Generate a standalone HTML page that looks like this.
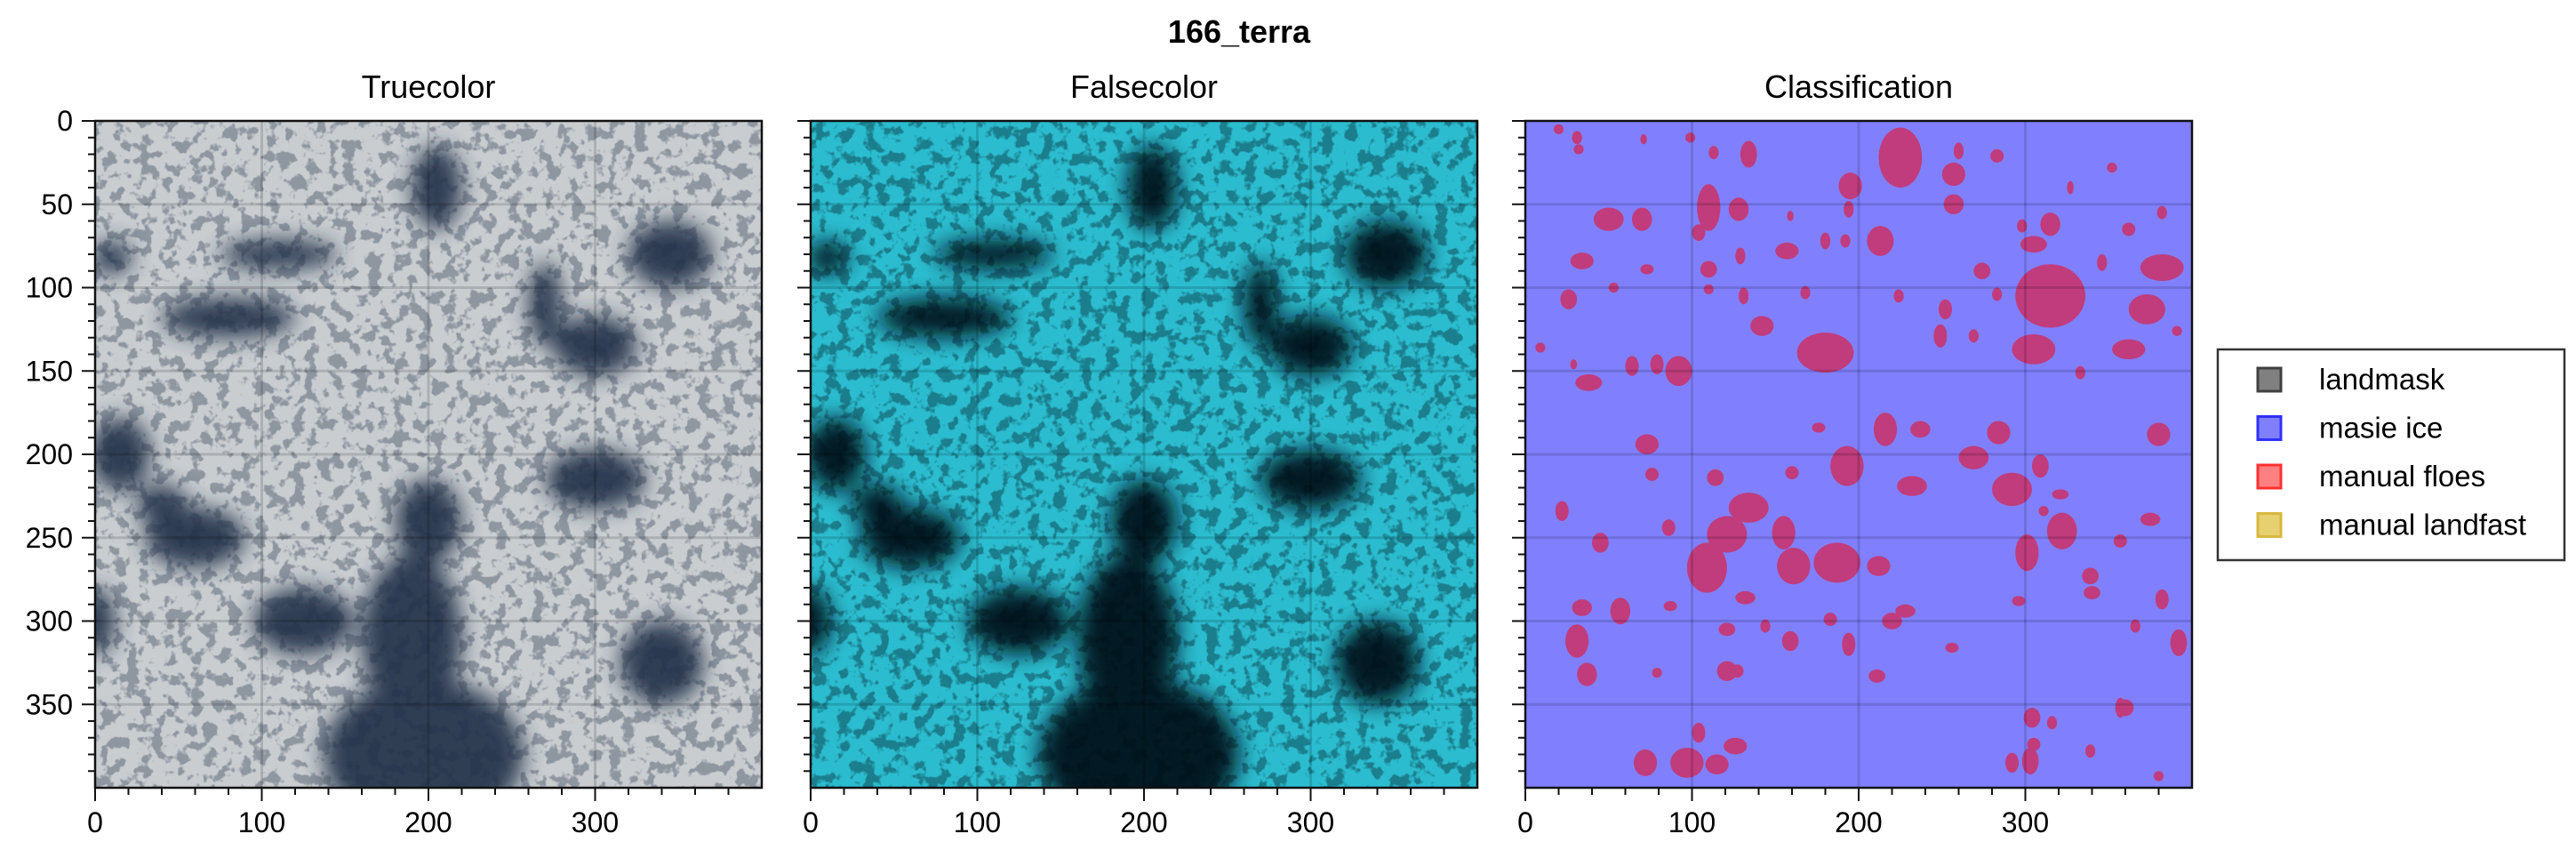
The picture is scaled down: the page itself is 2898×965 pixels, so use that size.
<!DOCTYPE html>
<html><head><meta charset="utf-8">
<style>
html,body{margin:0;padding:0;background:#fff;}
svg{display:block;font-family:"Liberation Sans",Arial,sans-serif;}
</style></head>
<body>
<svg id="fig" width="2898" height="965" viewBox="0 0 2898 965" xmlns="http://www.w3.org/2000/svg">
<defs>
<filter id="blurDark" x="-20%" y="-20%" width="140%" height="140%"><feGaussianBlur stdDeviation="12"/></filter>
<filter id="speckle" x="0" y="0" width="100%" height="100%">
<feTurbulence type="fractalNoise" baseFrequency="0.07" numOctaves="3" seed="7" result="n"/>
<feColorMatrix in="n" type="matrix" values="0 0 0 0 0  0 0 0 0 0  0 0 0 0 0  0 0 0 -9 4.4" result="a"/>
<feComposite in="SourceGraphic" in2="a" operator="in"/>
</filter>
<clipPath id="clip1"><rect x="107" y="136" width="750" height="750"/></clipPath>
<clipPath id="clip2"><rect x="912" y="136" width="750" height="750"/></clipPath>
<clipPath id="clip3"><rect x="1716" y="136" width="750" height="750"/></clipPath>
</defs>
<text x="1394" y="48" text-anchor="middle" font-size="36" font-weight="bold">166_terra</text>
<g id="layer"></g>
</svg>
<script>
// dark water regions [x, y, rx, ry] in data units
const waterX = [197,190,80,110,10,15,300,345,205,300,60,125,340,200,0,40,270];
const waterY = [380,310,118,80,82,200,135,80,40,215,250,300,325,240,300,230,110];
const waterRX = [60,30,40,35,12,18,25,25,15,30,30,30,25,20,12,15,10];
const waterRY = [45,50,12,9,10,22,18,20,25,18,18,20,25,25,20,12,25];
// classified floes [x, y, rx, ry] in data units
const floeX = [225,315,180,382,373,305,110,50,70,128,195,257,257,213,157,92,38,26,34,134,305,315,142,64,362,
20,31,32,71,99,113,283,260,352,327,382,362,298,180,192,129,73,110,274,346,53,110,131,168,224,252,283,391,249,269,9,29,79,333,104,194,159,
193,216,292,134,121,109,161,187,155,301,322,212,232,269,284,380,309,73,34,57,31,132,220,159,194,121,37,72,97,115,126,104,392,304,360,303,292,382,339,340,375,357,45,76,22,114,160,237,176,144,183,87,121,228,296,256,127,79,211,305,339,357,380,366,86,316,321,311];
const floeY = [22,105,139,88,113,137,52,59,59,53,39,32,50,72,78,150,157,107,84,20,74,62,123,147,137,
5,10,17,11,10,19,21,18,28,40,55,65,63,72,72,81,89,89,90,85,100,101,105,103,105,113,104,126,129,129,136,146,146,151,67,53,57,
207,185,221,232,248,268,267,265,247,259,246,267,219,202,187,188,207,194,292,294,312,286,300,312,314,330,332,385,385,386,375,367,313,358,352,384,385,287,273,283,239,252,253,212,234,214,211,185,184,303,299,291,305,294,288,316,330,331,333,374,378,352,393,303,244,361,224,234];
const floeRX = [13,21,17,13,11,13,7,9,6,6,7,7,6,8,7,8,8,5,7,5,8,6,7,4,10,
3,3,3,2,3,3,4,3,3,2,3,4,3,3,3,3,4,5,5,3,3,3,3,3,3,4,3,3,4,3,3,2,4,3,4,3,2,
10,7,12,12,12,12,10,14,7,7,9,7,9,9,7,7,5,7,6,6,7,6,6,5,4,6,6,7,10,7,7,4,5,5,5,5,4,4,5,5,6,4,5,4,4,5,4,6,4,3,4,4,5,6,4,4,4,3,5,4,3,3,3,3,4,3,5,3];
const floeRY = [18,19,12,8,9,9,14,7,7,7,8,7,6,9,5,9,5,6,5,8,5,7,6,6,6,
3,4,3,3,3,4,4,5,3,4,4,4,4,5,4,5,3,5,5,5,3,3,5,4,4,6,4,3,7,4,3,3,6,4,5,5,3,
12,10,10,9,11,15,11,12,10,11,11,6,6,7,7,7,7,6,5,8,10,4,5,6,7,6,7,8,9,6,5,6,8,6,5,8,6,6,5,4,4,4,6,4,6,5,4,5,3,4,4,3,4,4,3,3,4,3,4,4,4,6,3,4,5,4,3,3];
const xTicks = [0,100,200,300];
const yTicks = [0,50,100,150,200,250,300,350];
const panelTitles = ["Truecolor","Falsecolor","Classification"];
const legendLabels = ["landmask","masie ice","manual floes","manual landfast"];

const NS="http://www.w3.org/2000/svg";
const layer=document.getElementById('layer');
const TOP=136, SIZE=750, DMAX=400;
const lefts=[107,912,1716];
function sx(p,v){return lefts[p]+v/DMAX*SIZE;}
function sy(v){return TOP+v/DMAX*SIZE;}
function sl(v){return v/DMAX*SIZE;}
function mk(tag,attrs,parent){const e=document.createElementNS(NS,tag);for(const k in attrs)e.setAttribute(k,attrs[k]);(parent||layer).appendChild(e);return e;}

const iceCol=["#c9cdd0","#2bbccf"], waterCol=["#24304a","#061014"];
for(let p=0;p<3;p++){
  const g=mk('g',{'clip-path':'url(#clip'+(p+1)+')'});
  
  
  if(p<2){
    mk('rect',{x:lefts[p],y:TOP,width:SIZE,height:SIZE,fill:iceCol[p]},g);
    const wg=mk('g',{filter:'url(#blurDark)',opacity:'0.92'},g);
    for(let i=0;i<waterX.length;i++){
      const e=mk('ellipse',{cx:sx(p,waterX[i]),cy:sy(waterY[i]),rx:sl(waterRX[i]),ry:sl(waterRY[i]),fill:waterCol[p]},wg);
      
      
    }
    mk('rect',{x:lefts[p],y:TOP,width:SIZE,height:SIZE,fill:waterCol[p],filter:'url(#speckle)',opacity:'0.35'},g);
  } else {
    mk('rect',{x:lefts[p],y:TOP,width:SIZE,height:SIZE,fill:"#8080ff"},g);
    for(let i=0;i<floeX.length;i++){
      const e=mk('ellipse',{cx:sx(p,floeX[i]),cy:sy(floeY[i]),rx:sl(floeRX[i]),ry:sl(floeRY[i]),fill:"#c03c7c"},g);
      
      
    }
  }
  for(const t of xTicks){ if(t>0) mk('line',{x1:sx(p,t),x2:sx(p,t),y1:TOP,y2:TOP+SIZE,stroke:'rgba(0,0,0,0.14)','stroke-width':3},g); }
  for(const t of yTicks){ if(t>0) mk('line',{x1:lefts[p],x2:lefts[p]+SIZE,y1:sy(t),y2:sy(t),stroke:'rgba(0,0,0,0.14)','stroke-width':3},g); }
  const fr=mk('rect',{x:lefts[p],y:TOP,width:SIZE,height:SIZE,fill:'none',stroke:'#111','stroke-width':2.5});
  
  
  const tt=mk('text',{x:lefts[p]+SIZE/2,y:110,'text-anchor':'middle','font-size':36});
  tt.textContent=panelTitles[p];
  
  
  for(let v=0;v<DMAX;v+=20){
    const major=xTicks.includes(v);
    mk('line',{x1:sx(p,v),x2:sx(p,v),y1:TOP+SIZE,y2:TOP+SIZE+(major?15:8),stroke:'#111','stroke-width':2});
  }
  for(const t of xTicks){
    const tx=mk('text',{x:sx(p,t),y:936,'text-anchor':'middle','font-size':32});
    tx.textContent=t;
    
    
  }
  for(let v=0;v<DMAX;v+=10){
    const major=yTicks.includes(v);
    mk('line',{x1:lefts[p],x2:lefts[p]-(major?15:8),y1:sy(v),y2:sy(v),stroke:'#111','stroke-width':2});
  }
  if(p===0){
    for(const t of yTicks){
      const ty=mk('text',{x:82,y:sy(t)+11,'text-anchor':'end','font-size':32});
      ty.textContent=t;
      
      
    }
  }
}
const lg=mk('g',{});


mk('rect',{x:2495,y:393,width:390,height:237,fill:'#fff',stroke:'#333','stroke-width':2.5},lg);
const swF=["#808080","#8080ff","#ff8080","#e6d070"], swS=["#404040","#3030ff","#ff3030","#d8b840"];
for(let i=0;i<legendLabels.length;i++){
  const y=427+i*54.5;
  const sw=mk('rect',{x:2540,y:y-13,width:26,height:26,fill:swF[i],stroke:swS[i],'stroke-width':3},lg);
  
  
  const t=mk('text',{x:2609,y:y+11,'font-size':33},lg);
  t.textContent=legendLabels[i];
  
  
}
</script>
</body></html>
